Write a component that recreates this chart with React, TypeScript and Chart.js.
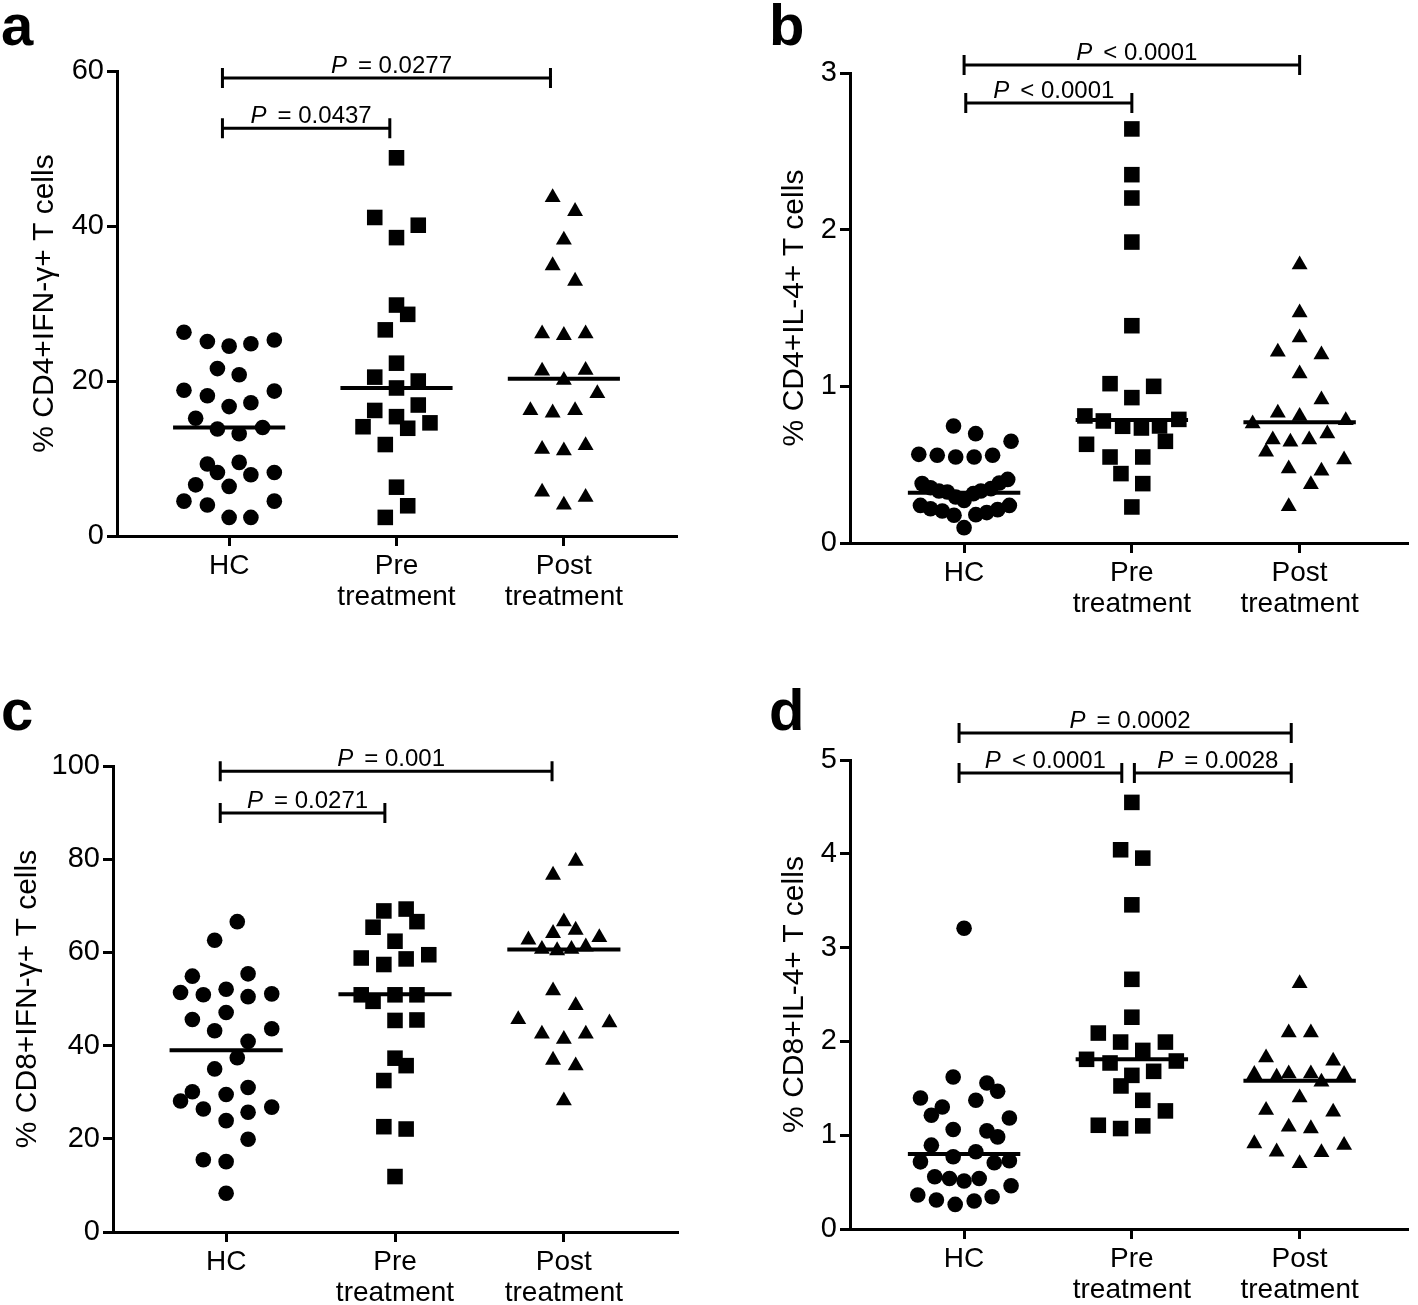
import React, { useEffect, useRef } from "react";
import { Chart, registerables } from "chart.js";

Chart.register(...registerables);

const FONT = '"Liberation Sans", Arial, Helvetica, sans-serif';
Chart.defaults.font.family = FONT;

// ---------- categories ----------
const categoryLabels: (string | string[])[] = ["HC", ["Pre", "treatment"], ["Post", "treatment"]];

// ---------- panel a : % CD4+IFN-γ+ T cells ----------  [x offset within category, value]
const aTicks = [0, 20, 40, 60];
const aHC: number[][] = [
  [-0.27, 26.3], [-0.13, 25.1], [0, 24.5], [0.13, 24.8], [0.27, 25.3],
  [-0.07, 21.6], [0.06, 20.8],
  [-0.27, 18.8], [-0.13, 18.1], [0.27, 18.7], [0, 16.7], [0.13, 17.2],
  [-0.2, 15.2], [-0.07, 13.8], [0.06, 13.2], [0.2, 14.0],
  [-0.13, 9.3], [0.06, 9.5], [-0.07, 8.2], [0.13, 7.9], [0.27, 8.2],
  [-0.2, 6.6], [0, 6.4],
  [-0.27, 4.5], [-0.13, 4.0], [0.27, 4.5],
  [0, 2.4], [0.13, 2.4],
];
const aPre: number[][] = [
  [0, 48.8], [-0.13, 41.1], [0.13, 40.1], [0, 38.5], [0, 29.8], [0.067, 28.6], [-0.067, 26.6],
  [0, 22.3], [-0.13, 20.5], [0.13, 20.0], [0, 19.1], [0.13, 16.9], [-0.13, 16.2], [0, 15.4],
  [-0.2, 14.1], [0.067, 13.9], [0.2, 14.6], [-0.067, 11.8], [0, 6.3], [0.067, 3.9], [-0.067, 2.4],
];
const aPost: number[][] = [
  [-0.067, 43.7], [0.067, 41.9], [0, 38.2], [-0.067, 34.9], [0.067, 32.9], [-0.13, 26.1], [0, 25.9],
  [0.13, 26.1], [-0.13, 21.3], [0.13, 21.4], [0, 20.1], [0.2, 18.4], [-0.2, 16.2], [-0.067, 15.9],
  [0.067, 16.2], [-0.13, 11.2], [0, 11.0], [0.13, 11.7], [-0.13, 5.7], [0, 4.0], [0.13, 5.0],
];
const aMedians = [14.0, 19.1, 20.3];
const aBrackets = [
  { from: -0.04, to: 1.92, y: 59.1, op: "=", val: "0.0277" },
  { from: -0.04, to: 0.96, y: 52.6, op: "=", val: "0.0437" },
];

// ---------- panel b : % CD4+IL-4+ T cells ----------
const bTicks = [0, 1, 2, 3];
const bHC: number[][] = [
  [-0.063, 0.747], [0.069, 0.698], [0.28, 0.649], [-0.27, 0.566], [-0.16, 0.56], [-0.05, 0.549],
  [0.06, 0.549], [0.17, 0.56], [0.26, 0.406], [-0.25, 0.379], [-0.2, 0.353], [-0.15, 0.332],
  [-0.1, 0.326], [-0.05, 0.294], [0, 0.272], [0.055, 0.315], [0.1, 0.332], [0.16, 0.347],
  [0.21, 0.383], [-0.26, 0.24], [-0.2, 0.219], [-0.13, 0.204], [-0.06, 0.177], [0.07, 0.181],
  [0.135, 0.194], [0.2, 0.213], [0.27, 0.24], [0, 0.098],
];
const bPre: number[][] = [
  [0, 2.643], [0, 2.351], [0, 2.202], [0, 1.921], [0, 1.387], [-0.13, 1.017], [0.13, 1.0],
  [0, 0.928], [-0.28, 0.811], [-0.17, 0.779], [-0.055, 0.745], [0.057, 0.734], [0.165, 0.747],
  [0.28, 0.789], [-0.27, 0.63], [0.2, 0.649], [-0.13, 0.549], [0.065, 0.549], [-0.065, 0.443],
  [0.065, 0.379], [0, 0.23],
];
const bPost: number[][] = [
  [0, 1.777], [0, 1.47], [0, 1.311], [-0.13, 1.219], [0.13, 1.202], [0, 1.081], [0.13, 0.915],
  [-0.13, 0.83], [0, 0.809], [-0.28, 0.762], [0.275, 0.783], [-0.16, 0.66], [-0.055, 0.645],
  [0.057, 0.66], [0.165, 0.698], [-0.2, 0.581], [0.265, 0.532], [-0.065, 0.474], [0.13, 0.46],
  [0.067, 0.374], [-0.065, 0.234],
];
const bMedians = [0.32, 0.785, 0.77];
const bBrackets = [
  { from: 0.0, to: 2.0, y: 3.051, op: "<", val: "0.0001" },
  { from: 0.01, to: 1.0, y: 2.808, op: "<", val: "0.0001" },
];

// ---------- panel c : % CD8+IFN-γ+ T cells ----------
const cTicks = [0, 20, 40, 60, 80, 100];
const cHC: number[][] = [
  [0.066, 66.6], [-0.068, 62.6], [-0.2, 54.9], [0.13, 55.4], [-0.27, 51.4], [-0.135, 50.9],
  [0, 52.1], [0.13, 50.5], [0.27, 51.1], [-0.2, 45.6], [0, 47.1], [-0.068, 43.2], [0.27, 43.6],
  [0.13, 40.9], [0.066, 37.4], [-0.068, 35.0], [-0.2, 30.1], [-0.27, 28.1], [0, 29.5],
  [0.13, 31.0], [-0.135, 26.4], [0.13, 25.7], [0.27, 26.8], [0, 23.9], [0.13, 19.9],
  [-0.135, 15.5], [0, 15.1], [0, 8.3],
];
const cPre: number[][] = [
  [-0.066, 68.9], [0.066, 69.3], [-0.13, 65.4], [0.13, 66.6], [0, 62.4], [-0.2, 58.8],
  [-0.066, 57.4], [0.066, 58.6], [0.2, 59.5], [-0.2, 50.9], [-0.13, 49.5], [0, 50.9], [0.13, 50.9],
  [0, 45.4], [0.13, 45.5], [0, 37.3], [0.066, 35.7], [-0.066, 32.5], [-0.066, 22.6], [0.066, 22.1],
  [0, 11.9],
];
const cPost: number[][] = [
  [0.07, 79.6], [-0.064, 76.6], [0, 66.6], [-0.064, 64.1], [0.07, 64.8], [-0.21, 62.7], [0.21, 63.2],
  [-0.13, 60.7], [-0.04, 60.4], [0.045, 60.7], [0.13, 61.2], [-0.064, 51.8], [0.07, 48.6],
  [-0.27, 45.6], [0.27, 44.9], [-0.13, 42.5], [0, 41.4], [0.13, 42.5], [-0.064, 36.9], [0.07, 35.7],
  [0, 28.2],
];
const cMedians = [39.0, 51.0, 60.6];
const cBrackets = [
  { from: -0.035, to: 1.93, y: 98.9, op: "=", val: "0.001" },
  { from: -0.035, to: 0.94, y: 89.9, op: "=", val: "0.0271" },
];

// ---------- panel d : % CD8+IL-4+ T cells ----------
const dTicks = [0, 1, 2, 3, 4, 5];
const dHC: number[][] = [
  [0, 3.206], [-0.065, 1.62], [0.136, 1.557], [0.2, 1.468], [-0.26, 1.397], [0.07, 1.372],
  [-0.13, 1.301], [-0.195, 1.213], [0.27, 1.184], [-0.065, 1.06], [0.136, 1.046], [0.2, 0.982],
  [-0.195, 0.894], [0.07, 0.823], [-0.065, 0.77], [-0.26, 0.716], [0.18, 0.706], [0.27, 0.727],
  [-0.175, 0.557], [-0.087, 0.539], [0, 0.511], [0.09, 0.539], [0.28, 0.461], [-0.276, 0.362],
  [-0.165, 0.309], [-0.053, 0.262], [0.06, 0.298], [0.167, 0.344],
];
const dPre: number[][] = [
  [0, 4.548], [-0.067, 4.043], [0.065, 3.954], [0, 3.456], [0, 2.662], [0, 2.258], [-0.2, 2.089],
  [-0.067, 1.993], [0.2, 1.993], [0.065, 1.904], [-0.27, 1.809], [-0.13, 1.77], [0.265, 1.791],
  [0, 1.638], [0.13, 1.681], [-0.065, 1.525], [0.065, 1.372], [0.2, 1.259], [-0.2, 1.106],
  [-0.067, 1.071], [0.065, 1.099],
];
const dPost: number[][] = [
  [0, 2.619], [-0.065, 2.092], [0.067, 2.092], [-0.2, 1.826], [0.2, 1.791], [-0.27, 1.649],
  [-0.137, 1.62], [-0.065, 1.656], [0.067, 1.656], [0.13, 1.567], [0.265, 1.649], [0, 1.401],
  [-0.2, 1.266], [0.2, 1.248], [-0.065, 1.089], [0.067, 1.071], [-0.27, 0.911], [-0.137, 0.823],
  [0.13, 0.816], [0.265, 0.894], [0, 0.699],
];
const dMedians = [0.8, 1.81, 1.58];
const dBrackets = [
  { from: -0.03, to: 1.95, y: 5.288, op: "=", val: "0.0002" },
  { from: -0.03, to: 0.94, y: 4.861, op: "<", val: "0.0001" },
  { from: 1.015, to: 1.95, y: 4.861, op: "=", val: "0.0028" },
];

// ---------- layout (positions / sizes) ----------
type Box = { left: number; top: number; width: number; height: number };
type Area = { left: number; top: number; right: number; bottom: number };
interface PanelSpec {
  letter: string;
  yTitle: string;
  ticks: number[];
  groups: number[][][];
  medians: number[];
  brackets: { from: number; to: number; y: number; op: string; val: string }[];
  box: Box;
  area: Area;
  xRange: number[];
  titleCenter: number;
  letterX: number;
  letterY: number;
}

const panels: PanelSpec[] = [
  {
    letter: "a", yTitle: "% CD4+IFN-γ+ T cells", ticks: aTicks, groups: [aHC, aPre, aPost],
    medians: aMedians, brackets: aBrackets,
    box: { left: 0, top: 0, width: 709, height: 652 },
    area: { left: 117, top: 71, right: 676, bottom: 536 }, xRange: [-0.67, 2.67],
    titleCenter: 45, letterX: 1, letterY: 45,
  },
  {
    letter: "b", yTitle: "% CD4+IL-4+ T cells", ticks: bTicks, groups: [bHC, bPre, bPost],
    medians: bMedians, brackets: bBrackets,
    box: { left: 709, top: 0, width: 709, height: 652 },
    area: { left: 141, top: 73, right: 707, bottom: 543 }, xRange: [-0.68, 2.64],
    titleCenter: 86, letterX: 60, letterY: 45,
  },
  {
    letter: "c", yTitle: "% CD8+IFN-γ+ T cells", ticks: cTicks, groups: [cHC, cPre, cPost],
    medians: cMedians, brackets: cBrackets,
    box: { left: 0, top: 652, width: 709, height: 653 },
    area: { left: 113, top: 114, right: 677, bottom: 580 }, xRange: [-0.67, 2.67],
    titleCenter: 28, letterX: 1, letterY: 78,
  },
  {
    letter: "d", yTitle: "% CD8+IL-4+ T cells", ticks: dTicks, groups: [dHC, dPre, dPost],
    medians: dMedians, brackets: dBrackets,
    box: { left: 709, top: 652, width: 709, height: 653 },
    area: { left: 141, top: 108, right: 707, bottom: 577 }, xRange: [-0.68, 2.64],
    titleCenter: 86, letterX: 60, letterY: 78,
  },
];

const pointStyles = ["circle", "rect", "triangle"];
const pointRadii = [7.8, 11, 9.2];
const TITLE_SIZE = 30;
const TICK_SIZE = 29;
const LABEL_SIZE = 28;
const P_SIZE = 24;

const annotPlugin = {
  id: "annot",
  afterDraw(chart: any) {
    const o = chart.options.plugins.annot;
    if (!o) return;
    const { ctx } = chart;
    const xs = chart.scales.x;
    const ys = chart.scales.y;
    ctx.save();
    ctx.fillStyle = "#000";
    ctx.strokeStyle = "#000";
    ctx.lineWidth = 3;
    ctx.lineCap = "butt";
    for (const b of o.brackets) {
      const x1 = xs.getPixelForValue(b.from);
      const x2 = xs.getPixelForValue(b.to);
      const y = ys.getPixelForValue(b.y);
      ctx.beginPath();
      ctx.moveTo(x1, y);
      ctx.lineTo(x2, y);
      ctx.moveTo(x1, y - 10);
      ctx.lineTo(x1, y + 10);
      ctx.moveTo(x2, y - 10);
      ctx.lineTo(x2, y + 10);
      ctx.stroke();
      ctx.textBaseline = "alphabetic";
      ctx.textAlign = "left";
      ctx.font = `italic ${P_SIZE}px ${FONT}`;
      const wP = ctx.measureText("P").width;
      ctx.font = `${P_SIZE}px ${FONT}`;
      const txt = b.op + " " + b.val;
      const wT = ctx.measureText(txt).width;
      const gap = 11;
      const total = wP + gap + wT;
      const sx = (x1 + x2) / 2 + 5 - total / 2;
      ctx.font = `italic ${P_SIZE}px ${FONT}`;
      ctx.fillText("P", sx, y - 5);
      ctx.font = `${P_SIZE}px ${FONT}`;
      ctx.fillText(txt, sx + wP + gap, y - 5);
    }
    ctx.font = `bold 58px ${FONT}`;
    ctx.textAlign = "left";
    ctx.textBaseline = "alphabetic";
    ctx.fillText(o.letter, o.letterX, o.letterY);
    ctx.restore();
  },
};

function Panel({ spec }: { spec: PanelSpec }) {
  const ref = useRef<HTMLCanvasElement | null>(null);
  useEffect(() => {
    if (!ref.current) return;
    const { box, area, ticks } = spec;
    const titlePad = spec.titleCenter - (TITLE_SIZE * 1.2) / 2;
    const padding = { left: titlePad, top: area.top, right: box.width - area.right, bottom: 0 };
    const gridCfg = {
      display: true,
      drawOnChartArea: false,
      drawTicks: true,
      tickLength: 10,
      lineWidth: 3,
      color: "#000",
    };
    const borderCfg = { display: true, width: 3, color: "#000" };
    const medianSets = spec.medians.map((m, i) => ({
      data: [
        { x: i - 0.335, y: m },
        { x: i + 0.335, y: m },
      ],
      showLine: true,
      borderColor: "#000",
      borderWidth: 4,
      pointRadius: 0,
      fill: false,
    }));
    const pointSets = spec.groups.map((g, i) => ({
      data: g.map(([dx, v]) => ({ x: i + dx, y: v })),
      pointStyle: pointStyles[i],
      pointRadius: pointRadii[i],
      pointBackgroundColor: "#000",
      pointBorderWidth: 0,
      borderColor: "#000",
      backgroundColor: "#000",
      showLine: false,
    }));
    const chart = new Chart(ref.current, {
      type: "scatter",
      data: { datasets: [...medianSets, ...pointSets] as any },
      options: {
        responsive: false,
        animation: false,
        events: [],
        layout: { padding },
        plugins: {
          legend: { display: false },
          tooltip: { enabled: false },
          annot: {
            brackets: spec.brackets,
            letter: spec.letter,
            letterX: spec.letterX,
            letterY: spec.letterY,
          },
        } as any,
        scales: {
          x: {
            type: "linear",
            min: spec.xRange[0],
            max: spec.xRange[1],
            afterBuildTicks: (s: any) => {
              s.ticks = [0, 1, 2].map((v) => ({ value: v }));
            },
            afterFit: (s: any) => {
              s.height = box.height - area.bottom;
              s.paddingLeft = 0;
              s.paddingRight = 0;
            },
            grid: gridCfg,
            border: borderCfg,
            ticks: {
              autoSkip: false,
              maxRotation: 0,
              minRotation: 0,
              padding: 5,
              color: "#000",
              font: { family: FONT, size: LABEL_SIZE, lineHeight: 1.1 },
              callback: (v: any) => categoryLabels[Math.round(Number(v))] as any,
            },
          },
          y: {
            type: "linear",
            min: 0,
            max: ticks[ticks.length - 1],
            afterBuildTicks: (s: any) => {
              s.ticks = ticks.map((v) => ({ value: v }));
            },
            afterFit: (s: any) => {
              s.width = area.left - titlePad;
            },
            grid: gridCfg,
            border: borderCfg,
            ticks: {
              padding: 3,
              color: "#000",
              font: { family: FONT, size: TICK_SIZE },
            },
            title: {
              display: true,
              text: spec.yTitle,
              color: "#000",
              font: { family: FONT, size: TITLE_SIZE, lineHeight: 1.2 },
              padding: 0,
            },
          },
        } as any,
      },
      plugins: [annotPlugin as any],
    });
    // make sure the plot area spans exactly the reference axis extent
    for (let k = 0; k < 4; k++) {
      const ca = chart.chartArea;
      const dR = area.right - ca.right;
      const dL = area.left - ca.left;
      if (Math.abs(dR) < 0.5 && Math.abs(dL) < 0.5) break;
      padding.right -= dR;
      padding.left += dL;
      const cfgOpts: any = chart.config.options;
      cfgOpts.layout = { padding: { ...padding } };
      chart.update();
    }
    return () => chart.destroy();
  }, [spec]);
  return (
    <canvas
      ref={ref}
      width={spec.box.width}
      height={spec.box.height}
      style={{
        position: "absolute",
        left: spec.box.left,
        top: spec.box.top,
        width: spec.box.width,
        height: spec.box.height,
        display: "block",
      }}
    />
  );
}

export default function App() {
  return (
    <div
      style={{
        position: "absolute",
        left: 0,
        top: 0,
        width: 1418,
        height: 1305,
        background: "#fff",
        overflow: "hidden",
      }}
    >
      {panels.map((p) => (
        <Panel key={p.letter} spec={p} />
      ))}
    </div>
  );
}
